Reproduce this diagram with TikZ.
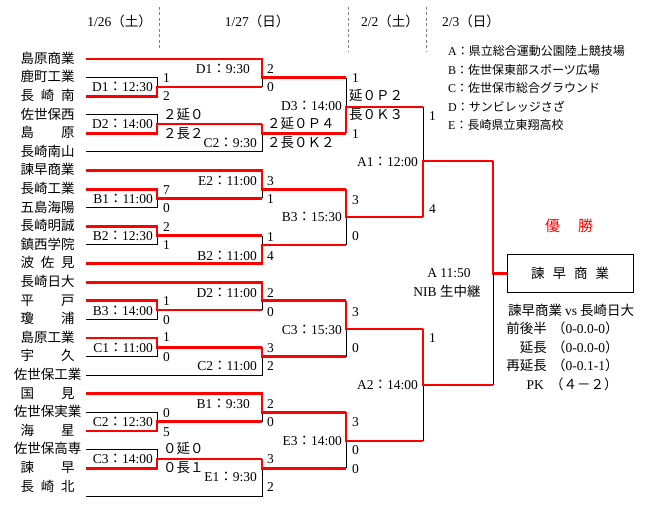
\documentclass[tikz,border=0pt]{standalone}
\usepackage{fontspec}
\setmainfont{Liberation Serif}
\newfontfamily\jp{Noto Sans CJK JP}
\usetikzlibrary{positioning}
\newcommand\bsize{\fontsize{13.5}{15}\selectfont}
\newcommand\spread[1]{\makebox[4em][s]{#1}}
\newcommand\kickoff[2]{#1{\jp：}#2}

\begin{document}
\begin{tikzpicture}[x=1pt, y=-1pt,
  every node/.style={font=\bsize},
  win/.style={red, line width=2.7pt},
  lose/.style={black, line width=1pt},
  lbl/.style={inner sep=0pt, text height=10.5pt, text depth=2pt},
  team/.style={lbl, font=\bsize\jp},
  kick/.style={lbl, anchor=east},
  pts/.style={lbl, anchor=west},
  venue/.style={lbl, anchor=west, font=\fontsize{12}{14}\selectfont},
  daysep/.style={gray, line width=0.8pt, dash pattern=on 3pt off 2.5pt}]
\useasboundingbox (0,0) rectangle (660,518);

% dates
\node[lbl] (d126) at (119.5,22) {1/26{\jp（土）}};
\node[lbl] (d127) at (257,22) {1/27{\jp（日）}};
\node[lbl] (d202) at (390,22) {2/2{\jp（土）}};
\node[lbl] (d203) at (471,22) {2/3{\jp（日）}};
\draw[daysep] (159,7) -- (159,50);
\draw[daysep] (348,7) -- (348,52);
\draw[daysep] (426,7) -- (426,52);

% venues
\node[venue] (va) at (448,51) {A\jp：県立総合運動公園陸上競技場};
\node[venue] (vb) at (448,70) {B\jp：佐世保東部スポーツ広場};
\node[venue] (vc) at (448,88) {C\jp：佐世保市総合グラウンド};
\node[venue] (vd) at (448,107) {D\jp：サンビレッジさざ};
\node[venue] (ve) at (448,125) {E\jp：長崎県立東翔高校};

% teams
\foreach \n [count=\i] in {島原商業, 鹿町工業, {\spread{長\hfil 崎\hfil 南}}, 佐世保西,
    {\spread{島\hfil 原}}, 長崎南山, 諫早商業, 長崎工業, 五島海陽, 長崎明誠, 鎮西学院,
    {\spread{波\hfil 佐\hfil 見}}, 長崎日大, {\spread{平\hfil 戸}}, {\spread{瓊\hfil 浦}},
    島原工業, {\spread{宇\hfil 久}}, 佐世保工業, {\spread{国\hfil 見}}, 佐世保実業,
    {\spread{海\hfil 星}}, 佐世保高専, {\spread{諫\hfil 早}}, {\spread{長\hfil 崎\hfil 北}}}{
  \pgfmathsetmacro\ty{59+18.6*(\i-1)}
  \node[team] (t\i) at (47.5,\ty) {\n};
  \coordinate (r\i) at (86,\ty);
}
\coordinate (r24) at (86,496);

% round exits
\coordinate (ra1) at (157,86.9);
\coordinate (ra2) at (157,124.1);
\coordinate (ra3) at (157,198.5);
\coordinate (ra4) at (157,235.7);
\coordinate (ra5) at (157,310.1);
\coordinate (ra6) at (157,347.3);
\coordinate (ra7) at (157,421.7);
\coordinate (ra8) at (157,458.9);
\coordinate (rb1) at (262,77.6);
\coordinate (rb2) at (262,133.4);
\coordinate (rb3) at (262,189.2);
\coordinate (rb4) at (262,245);
\coordinate (rb5) at (262,300.8);
\coordinate (rb6) at (262,356.6);
\coordinate (rb7) at (262,412.4);
\coordinate (rb8) at (262,468.2);
\coordinate (rc1) at (346,107);
\coordinate (rc2) at (346,217);
\coordinate (rc3) at (346,329);
\coordinate (rc4) at (346,441);
\coordinate (rd1) at (423,161);
\coordinate (rd2) at (423,385);
\coordinate (re) at (493,273.5);

\node[draw, line width=1pt, minimum width=126pt, minimum height=37pt, inner sep=0pt] (champ) at (570,273.5)
  {\jp\makebox[78pt][s]{諫\hfil 早\hfil 商\hfil 業}};

% losing side
\draw[lose] (r2) -| (ra1);
\draw[lose] (r4) -| (ra2);
\draw[lose] (r9) -| (ra3);
\draw[lose] (r11) -| (ra4);
\draw[lose] (r15) -| (ra5);
\draw[lose] (r17) -| (ra6);
\draw[lose] (r20) -| (ra7);
\draw[lose] (r22) -| (ra8);
\draw[lose] (ra1 -| rb1) -- (rb1);
\draw[lose] (r6) -| (rb2);
\draw[lose] (ra3 -| rb3) -- (rb3);
\draw[lose] (ra4 -| rb4) -- (rb4);
\draw[lose] (ra5 -| rb5) -- (rb5);
\draw[lose] (r18) -| (rb6);
\draw[lose] (ra7 -| rb7) -- (rb7);
\draw[lose] (r24) -| (rb8);
\draw[lose] (rb1 -| rc1) -- (rc1);
\draw[lose] (rb4 -| rc2) -- (rc2);
\draw[lose] (rb6 -| rc3) -- (rc3);
\draw[lose] (rb8 -| rc4) -- (rc4);
\draw[lose] (rc1 -| rd1) -- (rd1);
\draw[lose] (rc4 -| rd2) -- (rd2);
\draw[lose] (rd2 -| re) -- (re);

% winning side
\draw[win] (r3) -| (ra1) -- (ra1 -| rb1);
\draw[win] (r5) -| (ra2) -- (ra2 -| rb2);
\draw[win] (r8) -| (ra3) -- (ra3 -| rb3);
\draw[win] (r10) -| (ra4) -- (ra4 -| rb4);
\draw[win] (r14) -| (ra5) -- (ra5 -| rb5);
\draw[win] (r16) -| (ra6) -- (ra6 -| rb6);
\draw[win] (r21) -| (ra7) -- (ra7 -| rb7);
\draw[win] (r23) -| (ra8) -- (ra8 -| rb8);
\draw[win] (r1) -| (rb1) -- (rb1 -| rc1);
\draw[win] (ra2 -| rb2) -- (rb2) -- (rb2 -| rc1);
\draw[win] (r7) -| (rb3) -- (rb3 -| rc2);
\draw[win] (r12) -| (rb4) -- (rb4 -| rc2);
\draw[win] (r13) -| (rb5) -- (rb5 -| rc3);
\draw[win] (ra6 -| rb6) -- (rb6) -- (rb6 -| rc3);
\draw[win] (r19) -| (rb7) -- (rb7 -| rc4);
\draw[win] (ra8 -| rb8) -- (rb8) -- (rb8 -| rc4);
\draw[win] (rb2 -| rc1) -- (rc1) -- (rc1 -| rd1);
\draw[win] (rb3 -| rc2) -- (rc2) -- (rc2 -| rd1);
\draw[win] (rb5 -| rc3) -- (rc3) -- (rc3 -| rd2);
\draw[win] (rb7 -| rc4) -- (rc4) -- (rc4 -| rd2);
\draw[win] (rc2 -| rd1) -- (rd1) -- (rd1 -| re);
\draw[win] (rc3 -| rd2) -- (rd2) -- (rd2 -| re);
\draw[win] (rd1 -| re) -- (re) -- (champ.west);

% kick-off times
\node[kick] (ka1) at (153,87) {\kickoff{D1}{12:30}};
\node[kick] (ka2) at (153,124) {\kickoff{D2}{14:00}};
\node[kick] (ka3) at (153,199) {\kickoff{B1}{11:00}};
\node[kick] (ka4) at (153,236) {\kickoff{B2}{12:30}};
\node[kick] (ka5) at (153,311) {\kickoff{B3}{14:00}};
\node[kick] (ka6) at (153,348) {\kickoff{C1}{11:00}};
\node[kick] (ka7) at (153,422) {\kickoff{C2}{12:30}};
\node[kick] (ka8) at (153,459) {\kickoff{C3}{14:00}};
\node[kick] (kb1) at (250,69) {\kickoff{D1}{9:30}};
\node[kick] (kb2) at (257,143) {\kickoff{C2}{9:30}};
\node[kick] (kb3) at (257,181) {\kickoff{E2}{11:00}};
\node[kick] (kb4) at (257,256) {\kickoff{B2}{11:00}};
\node[kick] (kb5) at (257,293) {\kickoff{D2}{11:00}};
\node[kick] (kb6) at (257,366) {\kickoff{C2}{11:00}};
\node[kick] (kb7) at (250,404) {\kickoff{B1}{9:30}};
\node[kick] (kb8) at (257,477) {\kickoff{E1}{9:30}};
\node[kick] (kc1) at (342,106) {\kickoff{D3}{14:00}};
\node[kick] (kc2) at (342,217) {\kickoff{B3}{15:30}};
\node[kick] (kc3) at (342,330) {\kickoff{C3}{15:30}};
\node[kick] (kc4) at (342,441) {\kickoff{E3}{14:00}};
\node[kick] (kd1) at (418,162) {\kickoff{A1}{12:00}};
\node[kick] (kd2) at (418,385) {\kickoff{A2}{14:00}};

% scores
\foreach \px/\py/\s [count=\j] in {163/78/1, 163/96/2, 163/115/{\jp ２延０}, 163/134/{\jp ２長２},
    163/190/7, 163/208/0, 163/227/2, 163/245/1, 163/301/1, 163/320/0, 163/337/1, 163/357/0,
    163/413/0, 163/432/5, 163/449/{\jp ０延０}, 163/468/{\jp ０長１},
    267/69/2, 267/87/0, 267/124/{\jp ２延０Ｐ４}, 267/143/{\jp ２長０Ｋ２}, 267/181/3, 267/199/1,
    267/237/1, 267/256/4, 267/293/2, 267/312/0, 267/348/3, 267/366/2, 267/404/2, 267/422/0,
    267/459/3, 267/487/2,
    352/78/1, 349/96/{\jp 延０Ｐ２}, 349/115/{\jp 長０Ｋ３}, 352/134/1, 352/200/3, 352/236/0,
    352/312/3, 352/348/0, 352/422/3, 352/450/0, 352/469/0,
    429/116/1, 429/209/4, 429/338/1}
  \node[pts] (sc\j) at (\px,\py) {\s};

% final
\node[lbl] (tv1) at (449,273) {A 11:50};
\node[lbl] (tv2) at (447,292) {NIB {\jp 生中継}};
\node[lbl, red, font=\fontsize{15}{17}\selectfont\jp] (yusho) at (569,227) {\makebox[48pt][s]{優\hfil 勝}};
\node[lbl] (card) at (571,311) {\jp 諫早商業\hspace{3pt}{\rmfamily vs}\hspace{3pt}長崎日大};
\node[lbl, anchor=east] (h1) at (547,329) {\jp 前後半};
\node[lbl, anchor=west] (s1) at (552,329) {{\jp（}0-0.0-0{\jp）}};
\node[lbl, anchor=east] (h2) at (547,348) {\jp 延長};
\node[lbl, anchor=west] (s2) at (552,348) {{\jp（}0-0.0-0{\jp）}};
\node[lbl, anchor=east] (h3) at (547,366) {\jp 再延長};
\node[lbl, anchor=west] (s3) at (552,366) {{\jp（}0-0.1-1{\jp）}};
\node[lbl, anchor=east] (h4) at (544,385) {PK};
\node[lbl, anchor=west] (s4) at (550,385) {\jp（４－２）};
\end{tikzpicture}
\end{document}
